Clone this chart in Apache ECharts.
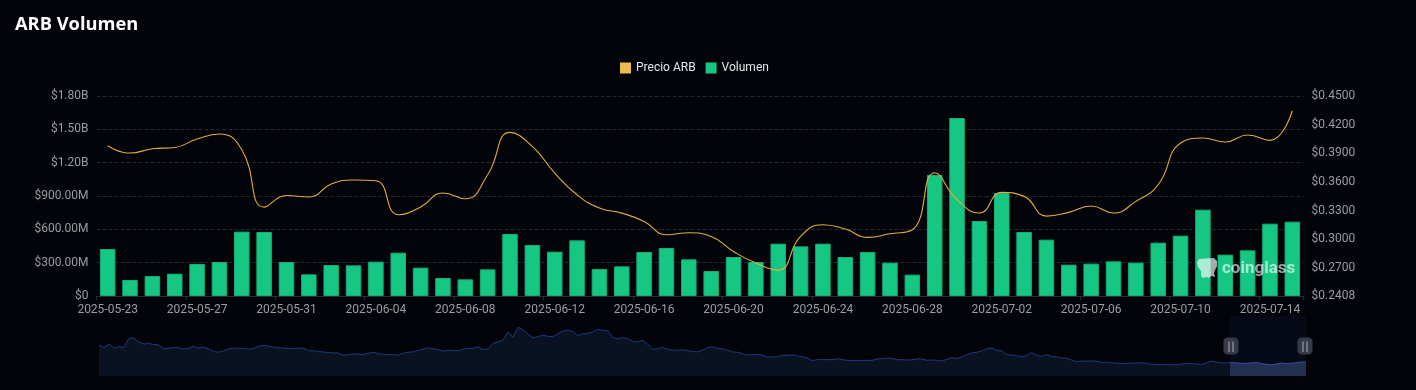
<!DOCTYPE html>
<html><head><meta charset="utf-8">
<style>html,body{margin:0;padding:0;background:#02040a}#c{width:1416px;height:390px}</style>
<script src="https://cdn.jsdelivr.net/npm/echarts@6/dist/echarts.min.js"></script>
</head><body><div id="c"></div>
<script>
const categories = ['2025-05-23','2025-05-24','2025-05-25','2025-05-26','2025-05-27','2025-05-28','2025-05-29','2025-05-30','2025-05-31','2025-06-01','2025-06-02','2025-06-03','2025-06-04','2025-06-05','2025-06-06','2025-06-07','2025-06-08','2025-06-09','2025-06-10','2025-06-11','2025-06-12','2025-06-13','2025-06-14','2025-06-15','2025-06-16','2025-06-17','2025-06-18','2025-06-19','2025-06-20','2025-06-21','2025-06-22','2025-06-23','2025-06-24','2025-06-25','2025-06-26','2025-06-27','2025-06-28','2025-06-29','2025-06-30','2025-07-01','2025-07-02','2025-07-03','2025-07-04','2025-07-05','2025-07-06','2025-07-07','2025-07-08','2025-07-09','2025-07-10','2025-07-11','2025-07-12','2025-07-13','2025-07-14','2025-07-15'];
const volumeMillions = [423,144,180,201,288,306,579,576,306,195,279,276,309,390,255,162,150,240,558,459,399,501,243,267,396,432,330,225,351,306,471,447,471,351,396,300,192,1089,1602,675,927,576,507,282,291,312,300,480,543,777,372,411,651,669];
const priceARB = [.3980,.3903,.3948,.3962,.4050,.4102,.3938,.3338,.3460,.3443,.3579,.3621,.3614,.3258,.3338,.3485,.3425,.3676,.4119,.3973,.3694,.3467,.3328,.3275,.3188,.3049,.3070,.3031,.2874,.2752,.2679,.3031,.3153,.3108,.3021,.3059,.3101,.3697,.3415,.3276,.3492,.3450,.3244,.3283,.3349,.3276,.3398,.3572,.4008,.4060,.4019,.4092,.4036,.4346];
const historyPriceCents = [92,85,96,83,88,85,112,113,101,95,97,94,93,81,83,85,84,81,82,89,83,86,81,73,71,75,81,83,83,82,80,82,89,91,89,86,84,83,82,82,83,83,76,75,73,72,70,69,69,62,64,66,65,64,68,71,67,65,64,64,62,68,71,72,77,80,84,81,79,74,77,76,75,80,82,83,87,79,81,97,101,107,
131,115,145,137,125,114,117,122,118,117,126,134,136,133,120,125,127,131,139,136,135,115,111,114,112,103,101,107,95,79,82,85,80,77,77,78,76,73,72,77,85,87,83,81,77,72,71,67,63,64,64,63,57,57,58,61,62,63,60,58,54,46,49,50,49,49,52,49,47,46,46,47,47,47,51,52,54,53,49,49,48,
49,51,51,47,48,47,45,50,55,52,57,64,69,71,75,81,83,76,75,64,63,61,58,61,70,62,59,64,58,58,54,53,48,43,45,45,45,45,41,42,40,39,37,38,39,39,40,38,36,35,34,35,34,34,36,38,37,36,35,39,45,42,40,39,41,40,38,38,39,41,38,35,34,36,39,37,38,40,42,42];
const rightTickLabels = [0.2408,0.27,0.30,0.33,0.36,0.39,0.42,0.45];

const textGrey = '#9b9da1';
const sliderLeft = 96.5, sliderWidth = 1207, sliderTop = 316, sliderH = 60;
const windowStart = 93.7;
const gripCentres = [1231, 1305];

function fmtLeft(v){
  if (v === 0) return '$0';
  return v >= 1000 ? '$' + (v/1000).toFixed(2) + 'B' : '$' + v.toFixed(2) + 'M';
}
const gripLines = gripCentres.flatMap(cx => [-2, 2].map(d => ({
  type:'line', z:100, silent:true,
  shape:{x1:cx+d, y1:sliderTop+25.5, x2:cx+d, y2:sliderTop+36},
  style:{stroke:'#a9acb8', lineWidth:1}
})));

const chart = echarts.init(document.getElementById('c'), null, {renderer:'canvas'});
chart.setOption({
  backgroundColor:'#02040a',
  animation:false,
  textStyle:{fontFamily:'Roboto, sans-serif'},
  title:{text:'ARB Volumen', left:10, top:11, textStyle:{color:'#ffffff', fontSize:18.3, fontWeight:'bold', fontFamily:'"Open Sans", sans-serif'}},
  legend:{
    data:['Precio ARB','Volumen'], top:57, left:615, itemWidth:11, itemHeight:11, itemGap:10,
    icon:'rect', itemStyle:{borderWidth:0}, textStyle:{color:'#e4e6ea', fontSize:12}
  },
  grid:[
    {left:96.5, width:1207, top:96, height:200},
    {left:99, width:1207, top:sliderTop, height:sliderH, show:false}
  ],
  xAxis:[
    {type:'category', gridIndex:0, data:categories, boundaryGap:true,
     axisLine:{lineStyle:{color:'#2b2e36'}},
     axisTick:{show:true, interval:3, length:4, lineStyle:{color:'#2b2e36'}},
     axisLabel:{interval:3, color:textGrey, fontSize:12, margin:8, hideOverlap:false}},
    {type:'category', gridIndex:1, show:false, boundaryGap:false, data:historyPriceCents.map((_,i)=>i)}
  ],
  yAxis:[
    {type:'value', gridIndex:0, position:'left', min:0, max:1800, interval:300,
     axisLine:{show:false}, axisTick:{show:false},
     axisLabel:{color:textGrey, fontSize:12, margin:8, formatter:fmtLeft},
     splitLine:{show:true, lineStyle:{type:'dashed', color:'#24272e', width:1}}},
    {type:'value', gridIndex:0, position:'right', min:0.2408, max:0.45,
     axisLine:{show:false}, axisTick:{show:false},
     axisLabel:{color:textGrey, fontSize:12, margin:8, customValues:rightTickLabels, formatter:v=>'$'+v.toFixed(4)},
     splitLine:{show:false}},
    {type:'value', gridIndex:1, show:false, scale:true}
  ],
  dataZoom:[{
    type:'slider', xAxisIndex:1, start:windowStart, end:100,
    left:sliderLeft, width:sliderWidth, top:sliderTop, height:sliderH,
    backgroundColor:'rgba(0,0,0,0)', borderColor:'rgba(0,0,0,0)',
    fillerColor:'rgba(70,100,200,0.07)',
    showDetail:false, brushSelect:false, moveHandleSize:0, zoomLock:false,
    showDataShadow:true,
    dataBackground:{lineStyle:{color:'#1d3a7c', width:1, opacity:1}, areaStyle:{color:'#0a1222', opacity:1}},
    selectedDataBackground:{lineStyle:{color:'#2f5096', width:1, opacity:1}, areaStyle:{color:'#222d4a', opacity:1}},
    handleIcon:'path://M5,0 L10,0 Q15,0 15,5 L15,12 Q15,17 10,17 L5,17 Q0,17 0,12 L0,5 Q0,0 5,0 Z',
    handleSize:'28.5%',
    handleStyle:{color:'#373a49', borderColor:'#373a49', borderWidth:0, shadowBlur:0}
  }],
  series:[
    {name:'Volumen', type:'bar', xAxisIndex:0, yAxisIndex:0, data:volumeMillions, barWidth:15.5, z:2,
     itemStyle:{color:'#16c784', borderColor:'#12b077', borderWidth:1}},
    {name:'Precio ARB', type:'line', xAxisIndex:0, yAxisIndex:1, data:priceARB, smooth:true, showSymbol:false, z:3,
     lineStyle:{color:'#e2ad3c', width:1.1}, itemStyle:{color:'#ecbb4e'}},
    {name:'Historial', type:'line', xAxisIndex:1, yAxisIndex:2, data:historyPriceCents, showSymbol:false, silent:true,
     lineStyle:{opacity:0}, itemStyle:{opacity:0}, emphasis:{disabled:true}, tooltip:{show:false}}
  ],
  graphic:[
    ...gripLines,
    {type:'polygon', z:50, silent:true,
     shape:{points:[[1199,259],[1214,258],[1217,261],[1217,266],[1215,270],[1214,273],[1215,277],[1211,276],[1209,278],[1206,277],[1203,278],[1201,276],[1201,271],[1198,267],[1197,262]]},
     style:{fill:'rgba(255,255,255,0.65)'}},
    {type:'text', z:50, silent:true, x:1222, y:260,
     style:{text:'coinglass', fill:'rgba(255,255,255,0.62)', fontSize:17, fontWeight:'bold', fontFamily:'Roboto, sans-serif'}}
  ]
});
</script></body></html>
